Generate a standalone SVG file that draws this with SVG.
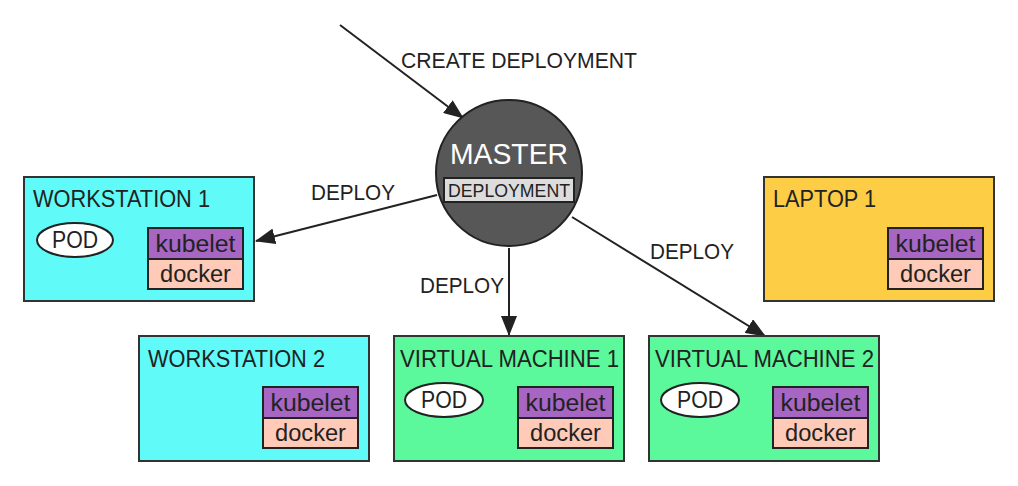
<svg xmlns="http://www.w3.org/2000/svg" width="1018" height="486" viewBox="0 0 1018 486">
<defs>
<marker id="ahb" markerWidth="20" markerHeight="16" refX="19" refY="8" orient="auto" markerUnits="userSpaceOnUse" viewBox="0 0 20 16">
<path d="M0,0 L20,8 L0,16 Z" fill="#222"/>
</marker>
</defs>
<style>
text{font-family:"Liberation Sans",Arial,sans-serif;fill:#222}
.box{stroke:#333;stroke-width:2}
.ws{fill:#60fbf8}
.vm{fill:#5cf89c}
.lp{fill:#fecd46}
.kub{fill:#a766c4;stroke:#222;stroke-width:2}
.dock{fill:#ffcbb8;stroke:#222;stroke-width:2}
.pod{fill:#fff;stroke:#222;stroke-width:2}
.t{font-size:23px}
.s{font-size:23px}
.lbl{font-size:22px}
.conn{stroke:#222;stroke-width:2;fill:none;marker-end:url(#ahb)}
</style>
<rect width="1018" height="486" fill="#fff"/>
<g id="connectors">
<line class="conn" x1="340" y1="25" x2="463" y2="118"/>
<line class="conn" x1="437" y1="195" x2="256" y2="241"/>
<line class="conn" x1="509" y1="248" x2="509" y2="335"/>
<line class="conn" x1="572" y1="217" x2="765" y2="336"/>
<text class="lbl" x="401" y="68" textLength="236" lengthAdjust="spacingAndGlyphs">CREATE DEPLOYMENT</text>
<text class="lbl" x="311" y="200" textLength="84" lengthAdjust="spacingAndGlyphs">DEPLOY</text>
<text class="lbl" x="420" y="293" textLength="84" lengthAdjust="spacingAndGlyphs">DEPLOY</text>
<text class="lbl" x="650" y="259" textLength="84" lengthAdjust="spacingAndGlyphs">DEPLOY</text>
</g>
<g id="master">
<circle cx="509" cy="173" r="73" fill="#575757" stroke="#222" stroke-width="2"/>
<text x="509" y="164" text-anchor="middle" font-size="30" style="fill:#fff" textLength="118" lengthAdjust="spacingAndGlyphs">MASTER</text>
<rect x="444" y="178" width="130" height="24" fill="#dcdcdc" stroke="#222" stroke-width="2"/>
<text x="509" y="197" text-anchor="middle" font-size="19" textLength="122" lengthAdjust="spacingAndGlyphs">DEPLOYMENT</text>
</g>
<g id="workstation1">
<rect class="box ws" x="24" y="177" width="230" height="124"/>
<text class="t" x="33" y="207" textLength="177" lengthAdjust="spacingAndGlyphs">WORKSTATION 1</text>
<ellipse class="pod" cx="75" cy="240" rx="38" ry="17"/>
<text class="s" x="75" y="248" text-anchor="middle" textLength="46" lengthAdjust="spacingAndGlyphs">POD</text>
<rect class="kub" x="148" y="228" width="95" height="31"/>
<text class="s" x="195.5" y="252" text-anchor="middle" textLength="80" lengthAdjust="spacingAndGlyphs">kubelet</text>
<rect class="dock" x="148" y="259" width="95" height="30"/>
<text class="s" x="195.5" y="282" text-anchor="middle" textLength="71" lengthAdjust="spacingAndGlyphs">docker</text>
</g>
<g id="workstation2">
<rect class="box ws" x="139" y="336" width="230" height="125"/>
<text class="t" x="148" y="367" textLength="177" lengthAdjust="spacingAndGlyphs">WORKSTATION 2</text>
<rect class="kub" x="263" y="387" width="95" height="31"/>
<text class="s" x="310.5" y="411" text-anchor="middle" textLength="80" lengthAdjust="spacingAndGlyphs">kubelet</text>
<rect class="dock" x="263" y="418" width="95" height="30"/>
<text class="s" x="310.5" y="441" text-anchor="middle" textLength="71" lengthAdjust="spacingAndGlyphs">docker</text>
</g>
<g id="vm1">
<rect class="box vm" x="394" y="336" width="230" height="125"/>
<text class="t" x="400" y="367" textLength="219" lengthAdjust="spacingAndGlyphs">VIRTUAL MACHINE 1</text>
<ellipse class="pod" cx="444" cy="400" rx="39" ry="17"/>
<text class="s" x="444" y="408" text-anchor="middle" textLength="46" lengthAdjust="spacingAndGlyphs">POD</text>
<rect class="kub" x="518" y="387" width="95" height="31"/>
<text class="s" x="565.5" y="411" text-anchor="middle" textLength="80" lengthAdjust="spacingAndGlyphs">kubelet</text>
<rect class="dock" x="518" y="418" width="95" height="30"/>
<text class="s" x="565.5" y="441" text-anchor="middle" textLength="71" lengthAdjust="spacingAndGlyphs">docker</text>
</g>
<g id="vm2">
<rect class="box vm" x="649" y="336" width="230" height="125"/>
<text class="t" x="655" y="367" textLength="219" lengthAdjust="spacingAndGlyphs">VIRTUAL MACHINE 2</text>
<ellipse class="pod" cx="700" cy="400" rx="39" ry="17"/>
<text class="s" x="700" y="408" text-anchor="middle" textLength="46" lengthAdjust="spacingAndGlyphs">POD</text>
<rect class="kub" x="773" y="387" width="95" height="31"/>
<text class="s" x="820.5" y="411" text-anchor="middle" textLength="80" lengthAdjust="spacingAndGlyphs">kubelet</text>
<rect class="dock" x="773" y="418" width="95" height="30"/>
<text class="s" x="820.5" y="441" text-anchor="middle" textLength="71" lengthAdjust="spacingAndGlyphs">docker</text>
</g>
<g id="laptop1">
<rect class="box lp" x="764" y="177" width="230" height="124"/>
<text class="t" x="773" y="207" textLength="103" lengthAdjust="spacingAndGlyphs">LAPTOP 1</text>
<rect class="kub" x="888" y="228" width="95" height="31"/>
<text class="s" x="935.5" y="252" text-anchor="middle" textLength="80" lengthAdjust="spacingAndGlyphs">kubelet</text>
<rect class="dock" x="888" y="259" width="95" height="30"/>
<text class="s" x="935.5" y="282" text-anchor="middle" textLength="71" lengthAdjust="spacingAndGlyphs">docker</text>
</g>
</svg>
